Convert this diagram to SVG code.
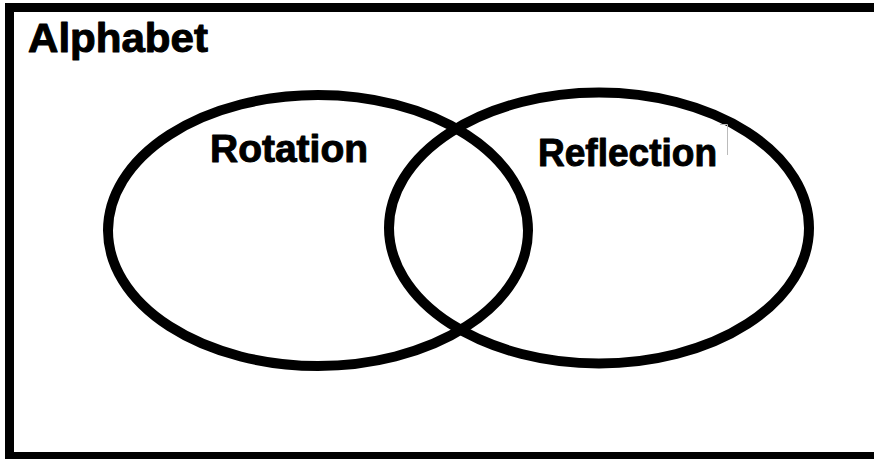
<svg xmlns="http://www.w3.org/2000/svg" width="874" height="459" viewBox="0 0 874 459">
<style>
.frame{fill:none;stroke:#000;stroke-width:9}
.set{fill:none;stroke:#000;stroke-width:10}
.lbl{font-family:"Liberation Sans",Arial,sans-serif;font-weight:bold;fill:#000;stroke:#000;stroke-width:1;stroke-linejoin:round}
</style>
<rect width="874" height="459" fill="#fff"/>
<rect class="frame" x="9.5" y="7.5" width="880" height="449"/>
<text class="lbl" x="28" y="52" font-size="41" textLength="180" lengthAdjust="spacingAndGlyphs">Alphabet</text>
<g id="rotation">
<ellipse class="set" cx="318" cy="230.5" rx="210" ry="135.5"/>
<text class="lbl" x="210" y="162" font-size="39" textLength="158" lengthAdjust="spacingAndGlyphs">Rotation</text>
</g>
<g id="reflection">
<ellipse class="set" cx="599" cy="228" rx="210" ry="135.5"/>
<text class="lbl" x="538" y="166" font-size="39" textLength="179" lengthAdjust="spacingAndGlyphs">Reflection</text>
</g>
<path d="M720 124.5H727.5V155" fill="none" stroke="#bbb" stroke-width="1"/>
</svg>
